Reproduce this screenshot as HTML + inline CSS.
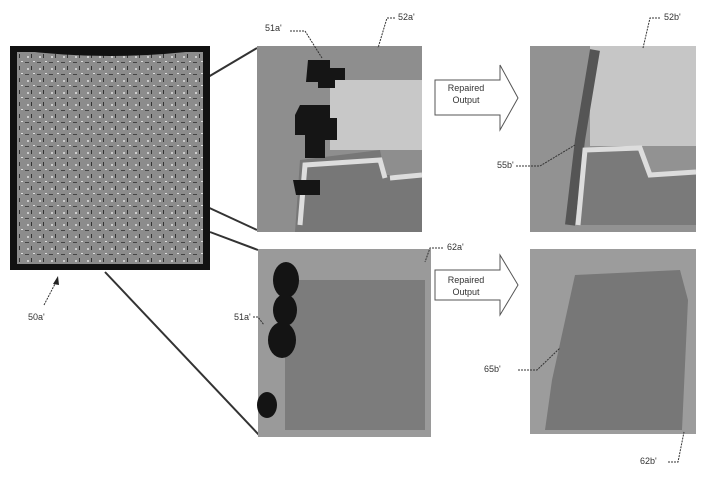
<!DOCTYPE html>
<html><head><style>body{margin:0;background:#fff}svg{display:block}text{font-family:"Liberation Sans",sans-serif;font-size:9px;fill:#333}</style></head>
<body>
<svg width="717" height="490" viewBox="0 0 717 490" xmlns="http://www.w3.org/2000/svg">
<defs>
<pattern id="tx" width="12" height="12" patternUnits="userSpaceOnUse">
<rect width="12" height="12" fill="#8c8c8c"/>
<rect x="1" y="2" width="4" height="1" fill="#444"/><rect x="7" y="6" width="1" height="4" fill="#333"/>
<rect x="3" y="8" width="2" height="2" fill="#ccc"/><rect x="9" y="1" width="2" height="1" fill="#ddd"/>
</pattern>
</defs>
<g stroke="#333" stroke-width="2">
<line x1="203" y1="80" x2="257" y2="48"/>
<line x1="203" y1="205" x2="257" y2="230"/>
<line x1="210" y1="232" x2="258" y2="250"/>
<line x1="105" y1="272" x2="260" y2="436"/>
</g>
<rect x="10" y="46" width="200" height="224" fill="#111"/>
<rect x="17" y="52" width="186" height="212" fill="url(#tx)"/>
<path d="M17 50 Q110 62 203 50 L203 46 L17 46Z" fill="#111"/>
<rect x="257" y="46" width="165" height="186" fill="#8e8e8e"/>
<rect x="330" y="80" width="92" height="70" fill="#c8c8c8"/>
<path d="M295 232 L300 160 L380 150 L385 175 L422 175 L422 232Z" fill="#777"/>
<path d="M300 225 L305 165 L380 160 L385 178 M390 178 L422 175" stroke="#ddd" stroke-width="5" fill="none"/>
<g fill="#151515">
<path d="M308 60 H330 V68 H345 V80 H335 V88 H318 V82 H306 Z"/>
<path d="M300 105 H330 V118 H337 V140 H325 V158 H305 V135 H295 V115 Z"/>
<path d="M293 180 H320 V195 H296 Z"/>
</g>
<path d="M435 80 H500 V65 L518 98 L500 130 V115 H435 Z" fill="#fff" stroke="#555"/>
<text x="466" y="91" text-anchor="middle">Repaired</text>
<text x="466" y="103" text-anchor="middle">Output</text>
<rect x="530" y="46" width="166" height="186" fill="#929292"/>
<rect x="590" y="46" width="106" height="100" fill="#c6c6c6"/>
<path d="M595 50 L580 140 L570 225" stroke="#555" stroke-width="10" fill="none"/>
<path d="M578 225 L585 150 L640 148 L650 175 L696 172 L696 225Z" fill="#7a7a7a"/>
<path d="M578 225 L585 150 L640 148 L650 175 L696 172" stroke="#ddd" stroke-width="5" fill="none"/>
<rect x="258" y="249" width="173" height="188" fill="#9a9a9a"/>
<rect x="285" y="280" width="140" height="150" fill="#7c7c7c"/>
<g fill="#141414">
<ellipse cx="286" cy="280" rx="13" ry="18"/><ellipse cx="285" cy="310" rx="12" ry="16"/>
<ellipse cx="282" cy="340" rx="14" ry="18"/><ellipse cx="267" cy="405" rx="10" ry="13"/>
</g>
<path d="M435 270 H500 V255 L518 285 L500 315 V300 H435 Z" fill="#fff" stroke="#555"/>
<text x="466" y="283" text-anchor="middle">Repaired</text>
<text x="466" y="295" text-anchor="middle">Output</text>
<rect x="530" y="249" width="166" height="185" fill="#9c9c9c"/>
<path d="M575 275 L680 270 L688 300 L682 430 L545 430 L552 380 Z" fill="#777"/>
<g stroke="#333" stroke-dasharray="2,1" fill="none">
<path d="M290 31 H305 L322 58"/>
<path d="M395 18 H387 L378 48"/>
<path d="M660 18 H650 L643 48"/>
<path d="M516 166 H540 L575 145"/>
<path d="M443 248 H430 L425 262"/>
<path d="M253 317 H258 L264 325"/>
<path d="M518 370 H537 L560 348"/>
<path d="M668 462 H678 L684 432"/>
<path d="M44 305 L56 282"/>
</g>
<path d="M58 276 L53 284 L59 285Z" fill="#222"/>
<text x="265" y="31">51a'</text>
<text x="398" y="20">52a'</text>
<text x="664" y="20">52b'</text>
<text x="497" y="168">55b'</text>
<text x="447" y="250">62a'</text>
<text x="234" y="320">51a'</text>
<text x="484" y="372">65b'</text>
<text x="640" y="464">62b'</text>
<text x="28" y="320">50a'</text>
</svg>
</body></html>
